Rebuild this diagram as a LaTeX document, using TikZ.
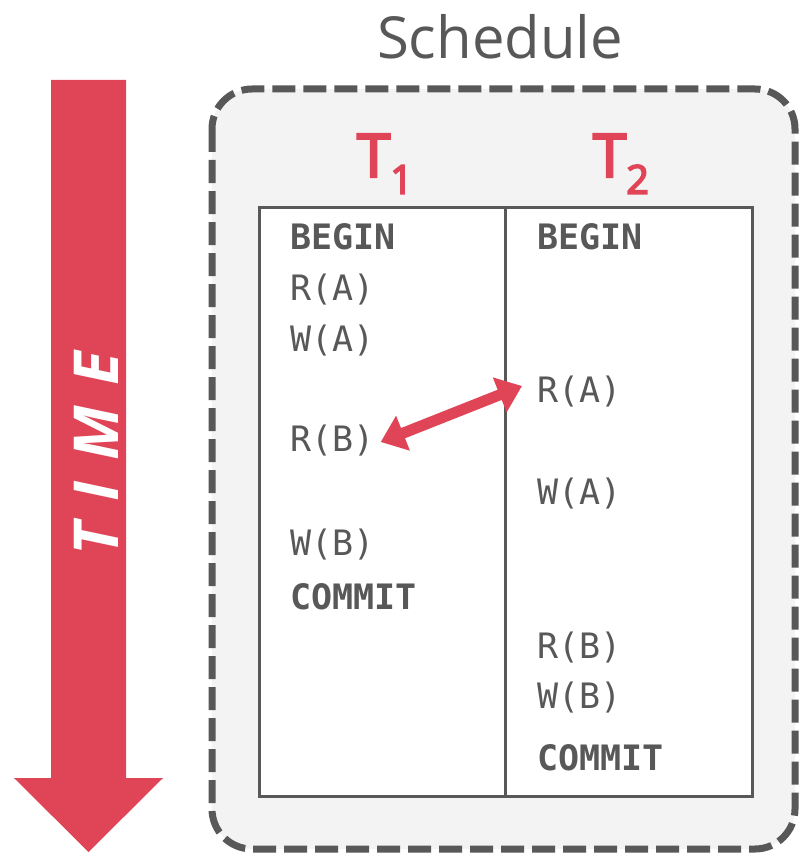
\documentclass[tikz,border=0pt]{standalone}
\usepackage{fontspec}
\setmainfont{Open Sans}
\setmonofont{DejaVu Sans Mono}
\newfontfamily\semiopen[FakeBold=4]{Open Sans}
\usetikzlibrary{arrows.meta}
\definecolor{cred}{RGB}{224,69,87}
\definecolor{cgray}{RGB}{88,88,88}
\definecolor{cbg}{RGB}{243,243,243}
\tikzset{
  op/.style={anchor=west, inner sep=0pt, text=cgray, font=\ttfamily\fontsize{35}{40}\selectfont},
  col/.style={draw=cgray, line width=3pt, fill=white, minimum width=247pt, minimum height=589pt, inner sep=0pt},
  tlabel/.style={text=cred, inner sep=0pt, font=\semiopen\fontsize{60}{60}\selectfont},
  conflict/.style={cred, line width=11pt, {Triangle[length=24pt,width=36pt]}-{Triangle[length=24pt,width=36pt]}}
}
\begin{document}
\begin{tikzpicture}[x=1pt,y=-1pt]
\useasboundingbox (0,0) rectangle (798,853);
% time arrow
\fill[cred] (51,80) -- (126,80) -- (126,778) -- (163,778) -- (88.5,852) -- (14,778) -- (51,778) -- cycle;
\node[rotate=90, text=white, inner sep=0pt, font=\bfseries\itshape\fontsize{62}{64}\selectfont] (time) at (96,453.5) {T\hspace{21pt}I\hspace{21pt}M\hspace{21pt}E};
% schedule box
\node[text=cgray, inner sep=0pt, font=\fontsize{58}{60}\selectfont] (sched) at (500,37) {Schedule};
\draw[cgray, line width=7pt, dash pattern=on 23pt off 8pt, fill=cbg, rounded corners=40pt] (212,89) rectangle (795,849);
% columns
\node[col] (c1) at (382.5,501.5) {};
\node[col] (c2) at (629,501.5) {};
\node[tlabel] (t1) at (385,164) {T\raisebox{-0.28em}{\fontsize{40}{40}\selectfont 1}};
\node[tlabel] (t2) at (621,164) {T\raisebox{-0.28em}{\fontsize{40}{40}\selectfont 2}};
% T1 ops
\node[op] (l1) at (290,237) {\textbf{BEGIN}};
\node[op] (l2) at (290,290) {R(A)};
\node[op] (l3) at (290,341) {W(A)};
\node[op] (l4) at (290,441) {R(B)};
\node[op] (l5) at (290,545) {W(B)};
\node[op] (l6) at (290,597) {\textbf{COMMIT}};
% T2 ops
\node[op] (r1) at (537,237) {\textbf{BEGIN}};
\node[op] (r2) at (537,392) {R(A)};
\node[op] (r3) at (537,494) {W(A)};
\node[op] (r4) at (537,648) {R(B)};
\node[op] (r5) at (537,698) {W(B)};
\node[op] (r6) at (537,758) {\textbf{COMMIT}};
% conflict arrow
\draw[conflict] ([xshift=6pt,yshift=-1pt]l4.east) -- ([xshift=-15pt,yshift=6pt]r2.west);
\end{tikzpicture}
\end{document}
